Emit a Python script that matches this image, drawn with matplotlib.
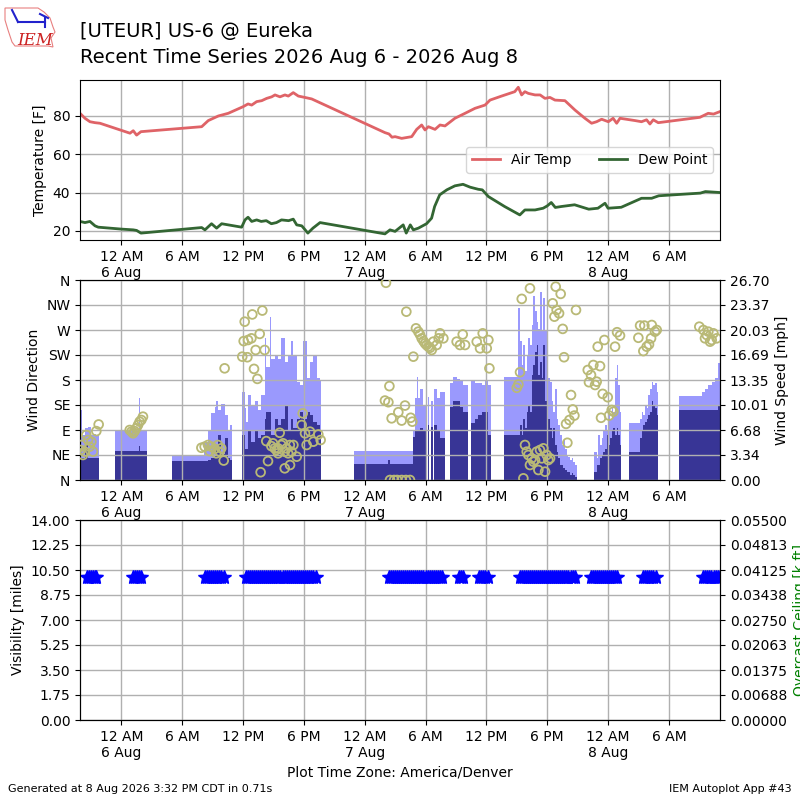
import numpy as np
import matplotlib
matplotlib.use("Agg")
import matplotlib.pyplot as plt
import matplotlib.dates as mdates
from matplotlib.ticker import FixedLocator, FuncFormatter
from matplotlib.patches import Polygon
from matplotlib.lines import Line2D
from datetime import datetime

nan = float("nan")

# ---------------- data (hours relative to 2026-08-06 00:00 America/Denver) ----------------
temp_hour = [-4.07, -3.58, -3.09, -2.59, -2.1, 0.86, 1.18, 1.51, 1.94, 7.93, 8.58, 9.57, 10.55,
             12.03, 12.5, 12.86, 13.35, 13.85, 14.34, 14.83, 15.16, 15.65, 16.14, 16.47, 16.96, 17.46,
             18.1, 18.78, 26.0, 26.4, 26.7, 27.0, 27.65, 28.64, 29.13, 29.62, 29.95, 30.28, 30.94,
             31.43, 31.92, 32.9, 33.9, 34.88, 35.87, 36.36, 37.5, 38.8, 39.15, 39.48, 39.8, 40.14,
             40.8, 41.3, 41.78, 42.27, 42.77, 43.75, 44.74, 45.72, 46.38, 46.87, 47.37, 48.03, 48.5,
             48.85, 49.18, 50.66, 51.3, 51.8, 52.13, 52.46, 52.95, 57.06, 57.88, 58.4, 59.04]
temp_f = [81.4, 78.8, 77.0, 76.5, 76.2, 71.0, 72.3, 70.0, 71.8, 74.4, 77.6, 80.0, 81.4,
          84.9, 86.3, 85.7, 87.5, 88.0, 89.2, 90.0, 91.0, 90.0, 91.0, 90.4, 92.2, 90.4,
          89.7, 88.9, 71.3, 70.6, 68.9, 69.2, 68.3, 69.2, 73.0, 75.3, 72.7, 74.4, 73.0,
          75.3, 74.8, 78.8, 81.4, 84.0, 85.7, 88.3, 90.4, 92.7, 95.0, 91.0, 92.7, 91.8,
          91.0, 91.0, 89.2, 89.7, 88.3, 88.0, 83.1, 78.8, 76.2, 77.0, 78.3, 77.0, 78.8,
          76.2, 78.8, 77.6, 77.0, 78.0, 75.8, 78.0, 76.5, 79.3, 81.4, 81.0, 82.3]

dew_hour = [-4.07, -3.58, -3.09, -2.59, -2.27, 0.0, 1.18, 1.51, 1.94, 7.93, 8.25, 8.9, 9.4, 9.9,
            10.55, 11.87, 12.2, 12.5, 12.86, 13.35, 13.8, 14.3, 14.8, 15.3, 15.8, 16.5, 16.96, 17.3,
            17.8, 18.4, 18.9, 19.6, 26.0, 26.5, 27.0, 27.8, 28.1, 28.5, 28.8, 29.3, 30.1, 30.6,
            30.9, 31.4, 32.1, 32.9, 33.7, 34.4, 35.2, 35.6, 36.2, 37.8, 39.3, 39.8, 40.8, 41.6,
            42.0, 42.4, 42.8, 43.4, 44.7, 46.1, 47.0, 47.7, 48.0, 49.3, 51.3, 52.3, 53.0, 57.1,
            57.6, 59.04]
dew_f = [24.9, 24.3, 24.9, 22.6, 21.9, 20.9, 20.5, 20.2, 18.8, 21.7, 20.5, 23.7, 21.4, 23.7,
         23.1, 21.9, 25.7, 27.1, 24.9, 25.7, 24.9, 25.3, 23.7, 24.3, 25.7, 25.3, 26.1, 23.1,
         22.6, 18.8, 21.4, 24.3, 18.4, 20.5, 19.7, 23.1, 18.8, 23.1, 20.5, 21.4, 23.7, 26.6,
         32.7, 38.8, 41.4, 43.5, 44.3, 42.8, 41.7, 41.4, 37.9, 32.7, 28.3, 30.9, 30.9, 31.8,
         33.0, 34.8, 32.2, 32.7, 33.6, 31.3, 31.8, 34.4, 31.8, 32.3, 37.0, 37.0, 38.3, 39.7,
         40.5, 40.0]

# wind observations: each bar lasts until the next time; nan = no data
wind_hour = [-4.07, -3.85, -3.6, -3.3, -3.0, -2.7, -2.45, -2.23,
             -0.65, 1.7, 1.8, 2.53,
             5.0, 8.15, 8.55, 8.88, 9.2, 9.37, 9.53, 9.86, 10.19, 10.52, 10.68, 10.9,
             11.9, 12.17, 12.33, 12.5, 12.83, 13.16, 13.48, 13.81, 14.14, 14.3, 14.63, 14.8, 15.13,
             15.46, 15.79, 16.12, 16.45, 16.78, 16.97, 17.3, 17.62, 17.95, 18.28, 18.6, 18.93,
             19.26, 19.6, 19.7,
             22.9, 26.35, 26.45,
             28.8, 28.96, 29.13, 29.29, 29.46, 29.79, 30.05, 30.2, 30.37, 30.51, 30.7, 30.8, 31.1,
             31.43, 31.96, 32.4, 32.74, 33.07, 33.4, 33.73, 34.22, 34.49, 34.88, 35.2, 35.54, 35.87,
             36.2, 36.46,
             37.7, 39.15, 39.32, 39.48, 39.65, 39.81, 39.98, 40.14, 40.31, 40.47, 40.63, 40.8, 40.96,
             41.13, 41.29, 41.46, 41.62, 41.78, 41.95, 42.11, 42.28, 42.44, 42.61, 42.77, 42.93,
             43.1, 43.26, 43.43, 43.59, 43.76, 43.92, 44.09, 44.25, 44.41, 44.58, 44.74, 44.91,
             46.65, 46.88, 47.04, 47.21, 47.37, 47.54, 47.7, 47.87, 48.03, 48.19, 48.36, 48.52,
             48.69, 48.85, 49.02, 49.18, 49.25,
             50.07, 51.15, 51.32, 51.48, 51.65, 51.81, 51.97, 52.14, 52.3, 52.47, 52.63, 52.8, 52.96,
             55.0, 57.23, 57.56, 57.89, 58.22, 58.55, 58.88, 59.04]
wind_gust = [9.4, 6.0, 6.9, 7.1, 6.0, 6.2, 6.0, nan,
             6.5, 10.9, 6.5, nan,
             3.2, 5.1, 6.7, 8.9, 9.8, 10.5, 9.3, 10.2, 8.7, 6.5, 7.3, nan,
             11.8, 9.6, 7.8, 11.3, 10.0, 10.5, 9.3, 11.3, 18.9, 15.1, 21.8, 16.2, 16.7,
             16.2, 18.9, 15.8, 16.7, 18.5, 16.7, 13.1, 12.7, 18.5, 13.6, 15.8, 16.7,
             13.6, 13.4, nan,
             3.9, 3.9, 3.9,
             6.7, 10.9, 13.8, 10.9, 12.2, 10.0, nan, 11.1, nan, 10.5, nan, 12.2, 10.9,
             11.8, nan, 13.0, 13.8, 13.5, 13.3, 12.7, nan, 13.3, 12.9, 13.0, 12.7, 13.3,
             12.7, nan,
             13.7, 22.9, 18.5, 15.4, 18.0, 14.5, 16.7, 18.9, 18.0, 20.7, 24.5, 22.5, 21.1,
             20.2, 25.1, 20.0, 24.3, 20.0, 19.4, 13.6, 13.1, 10.5, 9.1, 12.2, 8.2,
             7.3, 6.0, 4.7, 5.3, 4.2, 3.3, 3.1, 2.7, 2.9, 2.4, 2.0, nan,
             3.8, 2.9, 6.0, 4.7, 5.6, 6.5, 7.3, 6.5, 9.1, 8.2, 9.6, 9.1,
             13.6, 15.4, 12.7, 9.1, nan,
             7.6, 8.2, 9.1, 8.7, 10.0, 9.6, 11.3, 12.2, 13.1, 12.7, 12.9, 11.8, nan,
             11.2, 11.8, 12.2, 12.7, 13.1, 13.6, 15.6, nan]
wind_speed = [3.0, 3.0, 4.7, 3.0, 3.0, 3.0, 3.0, nan,
              3.9, 4.5, 3.9, nan,
              2.5, 2.5, 2.7, 3.0, 3.2, 4.0, 6.0, 3.5, 5.6, 3.0, 2.7, nan,
              6.0, 4.2, 4.2, 6.5, 5.1, 6.5, 5.6, 6.0, 8.2, 9.1, 9.1, 6.0, 8.2,
              7.3, 8.2, 10.0, 6.5, 8.2, 6.9, 8.2, 9.1, 8.2, 9.1, 8.7, 7.8,
              7.3, 6.5, nan,
              2.2, 2.7, 2.2,
              5.8, 6.5, 6.5, 6.7, 6.9, 6.7, nan, 7.3, nan, 7.1, nan, 7.3, 6.5,
              5.6, nan, 9.8, 10.5, 10.5, 9.8, 9.1, nan, 7.6, 8.2, 8.7, 9.1, 9.1,
              6.0, nan,
              6.0, 6.0, 7.3, 6.0, 8.2, 6.9, 9.1, 10.0, 9.1, 14.0, 15.4, 17.1, 18.0,
              14.0, 15.8, 13.6, 18.0, 10.5, 10.0, 8.2, 6.9, 5.6, 6.9, 4.7, 3.8,
              2.9, 2.0, 2.0, 1.6, 1.3, 1.1, 1.1, 0.7, 0.9, 0.7, 0.4, nan,
              1.1, 2.0, 2.0, 2.9, 3.3, 3.8, 4.2, 6.0, 4.7, 5.6, 6.5, 6.9,
              6.0, 6.9, 6.0, 4.7, nan,
              3.8, 5.6, 6.5, 7.3, 7.8, 8.2, 8.7, 9.1, 10.5, 10.0, 9.6, 8.7, nan,
              9.3, 9.3, 9.3, 9.3, 9.3, 9.3, 10.0, nan]

dir_hour = [-4.0, -3.94, -3.78, -3.61, -3.45, -3.28, -3.12, -2.95, -2.79, -2.46, -2.23,
            0.83, 1.0, 1.16, 1.32, 1.48, 1.65, 1.81, 1.98, 2.14,
            7.9, 8.22, 8.55, 8.71, 8.88, 9.2, 9.37, 9.53, 9.7, 9.86, 10.1, 10.19,
            11.93, 12.07, 12.17, 12.43, 12.5, 12.83, 12.92, 13.09, 13.25, 13.42, 13.65, 13.91,
            14.14, 13.74, 14.3, 14.47, 14.8, 14.96, 15.13, 15.29, 15.46, 15.46, 15.62, 15.79,
            15.95, 16.12, 16.12, 16.29, 16.45, 16.62, 16.64, 16.78, 16.97, 17.3, 17.79, 17.89,
            18.12, 18.28, 18.61, 18.94, 19.43, 19.66,
            26.0, 26.1, 26.34, 26.44, 26.5, 26.66, 26.9, 27.2, 27.32, 27.65, 27.65, 27.98, 28.07,
            28.11, 28.47, 28.54, 28.7,
            28.8, 29.06, 29.29, 29.45, 29.62, 29.8, 29.95, 30.1, 30.28, 30.45, 30.61, 30.77,
            31.1, 31.3, 31.43, 31.76, 33.07, 33.4, 33.67, 33.9, 35.05, 35.38, 35.64, 36.04,
            36.2, 36.3,
            39.0, 39.16, 39.32, 39.49, 39.65, 39.81, 39.98, 40.14, 40.3, 40.3, 40.47, 40.64,
            40.8, 40.96, 41.13, 41.29, 41.46, 41.62, 41.79, 41.95, 42.11, 42.28, 42.54, 42.71,
            42.84, 42.93, 43.17, 43.33, 43.53, 43.66, 43.86, 43.99, 44.19, 44.35, 44.52, 44.68,
            44.84,
            46.0, 46.12, 46.32, 46.55, 46.72, 46.88, 46.98, 47.21, 47.31, 47.47, 47.64, 47.97,
            48.1, 48.36, 48.53, 48.69, 48.89, 49.18,
            50.99, 51.16, 51.48, 51.58, 51.81, 52.04, 52.24, 52.31, 52.63, 52.8,
            57.0, 57.4, 57.56, 57.73, 57.89, 58.06, 58.22, 58.39, 58.71]
dir_deg = [54, 63, 45, 51, 81, 72, 60, 69, 51, 88, 100,
           90, 87, 84, 88, 93, 99, 105, 108, 114,
           58, 60, 63, 52, 60, 56, 48, 63, 51, 57, 35, 201,
           222, 250, 285, 221, 252, 255, 298, 200, 234, 182, 263, 305,
           234, 14, 70, 34, 61, 66, 57, 54, 48, 57, 85, 63,
           66, 51, 21, 57, 48, 63, 27, 51, 63, 42, 99, 120,
           84, 63, 87, 69, 82, 72,
           143, 355, 140, 169, 0, 111, 0, 0, 122, 107, 0, 134, 0,
           303, 0, 112, 105,
           222, 273, 267, 262, 255, 250, 246, 243, 240, 238, 234, 249,
           243, 255, 264, 255, 249, 243, 262, 243, 249, 237, 264, 237,
           252, 201,
           166, 172, 194, 326, 3, 63, 51, 45, 345, 27, 39, 33,
           36, 51, 18, 54, 39, 57, 15, 45, 36, 39, 318, 294,
           348, 306, 300, 335, 272, 221, 101, 67, 108, 153, 127, 116,
           306,
           198, 176, 189, 207, 171, 177, 240, 205, 112, 155, 252, 149,
           116, 126, 123, 240, 266, 260,
           256, 278, 232, 278, 240, 244, 255, 279, 267, 270,
           276, 270, 255, 261, 267, 249, 252, 264, 255]

vis_hour = [-3.4, -3.2, -3.0, -2.8, -2.6, -2.5,
            1.15, 1.35, 1.55, 1.75, 1.95,
            8.25, 8.45, 8.65, 8.85, 9.05, 9.25, 9.45, 9.65, 9.85, 10.1,
            12.3, 12.5, 12.7, 12.9, 13.1, 13.3, 13.5, 13.7, 13.9, 14.1, 14.3, 14.5, 14.7, 14.9,
            15.1, 15.3, 15.5, 15.7, 15.9, 16.1, 16.3, 16.5, 16.7, 16.9, 17.1, 17.3, 17.5, 17.7,
            17.9, 18.1, 18.3, 18.5, 18.7, 18.9, 19.2,
            26.4, 26.6, 26.8, 27.0, 27.2, 27.4, 27.6, 27.8, 28.0, 28.2, 28.4, 28.6, 28.8, 29.0,
            29.2, 29.4, 29.6, 29.8, 30.0, 30.2, 30.4, 30.6, 30.8, 31.0, 31.2, 31.4, 31.6,
            33.3, 33.5, 33.7,
            35.3, 35.5, 35.7, 35.9, 36.2,
            39.3, 39.5, 39.7, 39.9, 40.1, 40.3, 40.5, 40.7, 40.9, 41.1, 41.3, 41.5, 41.7, 41.9,
            42.1, 42.3, 42.5, 42.7, 42.9, 43.1, 43.3, 43.5, 43.7, 43.9, 44.1, 44.3, 44.5, 44.7,
            46.3, 46.5, 46.7, 46.9, 47.1, 47.3, 47.5, 47.7, 47.9, 48.1, 48.3, 48.5, 48.7, 48.9,
            51.4, 51.6, 51.8, 52.0, 52.2, 52.4, 52.7,
            57.4, 57.6, 57.8, 58.0, 58.2, 58.4, 58.6, 58.8, 59.0]
vis_miles = [10.0] * len(vis_hour)

dir_ticklabels = ["N", "NE", "E", "SE", "S", "SW", "W", "NW", "N"]
speed_ticklabels = ["0.00", "3.34", "6.68", "10.01", "13.35", "16.69", "20.03", "23.37", "26.70"]
vis_ticklabels = ["0.00", "1.75", "3.50", "5.25", "7.00", "8.75", "10.50", "12.25", "14.00"]
ceil_ticklabels = ["0.00000", "0.00688", "0.01375", "0.02063", "0.02750", "0.03438",
                   "0.04125", "0.04813", "0.05500"]

# ---------------- plotting ----------------
BASE = mdates.date2num(datetime(2026, 8, 6))


def hx(h):
    return BASE + np.asarray(h, dtype=float) / 24.0


XMIN, XMAX = hx(-4.07), hx(59.04)

fig = plt.figure(figsize=(8, 8), dpi=100)
ax1 = fig.add_axes([0.1, 0.7, 0.8, 0.2])
ax2 = fig.add_axes([0.1, 0.4, 0.8, 0.25])
ax3 = fig.add_axes([0.1, 0.1, 0.8, 0.25])


def tfmt(x, pos):
    d = mdates.num2date(x + 1e-7)
    hr = d.hour
    if hr == 0:
        return "12 AM\n%d Aug" % d.day
    if hr == 12:
        return "12 PM"
    if hr < 12:
        return "%d AM" % hr
    return "%d PM" % (hr - 12)


for ax in (ax1, ax2, ax3):
    ax.set_xlim(XMIN, XMAX)
    ax.xaxis.set_major_locator(mdates.HourLocator(byhour=[0, 6, 12, 18]))
    ax.xaxis.set_major_formatter(FuncFormatter(tfmt))
    ax.grid(True, color="#b0b0b0", linewidth=1.0)

# temperature panel
ax1.plot(hx(temp_hour), temp_f, color="#df6367", lw=2, label="Air Temp")
ax1.plot(hx(dew_hour), dew_f, color="#336633", lw=2, label="Dew Point")
ax1.set_ylim(15.2, 98.8)
ax1.set_yticks([20, 40, 60, 80])
ax1.set_ylabel("Temperature [F]")
ax1.legend(loc="center right", ncol=2, fontsize=10)

# wind panel
axs = ax2.twinx()
ax2.set_zorder(axs.get_zorder() + 1)
ax2.patch.set_visible(False)
t = np.array(wind_hour)
sp = np.array(wind_speed)
gu = np.array(wind_gust)
left = hx(t[:-1])
width = np.diff(t) / 24.0
m = ~np.isnan(sp[:-1])
axs.bar(left[m], gu[:-1][m], width=width[m], align="edge", color="#9a99fd",
        linewidth=0, antialiased=False)
axs.bar(left[m], sp[:-1][m], width=width[m], align="edge", color="#383596",
        linewidth=0, antialiased=False)
axs.set_ylim(0, 26.70)
axs.yaxis.set_major_locator(FixedLocator(np.linspace(0, 26.70, 9)))
axs.set_yticklabels(speed_ticklabels)
axs.set_ylabel("Wind Speed [mph]")
axs.set_xlim(XMIN, XMAX)

ax2.scatter(hx(dir_hour), dir_deg, s=40, facecolors="none", edgecolors="#b9b976",
            linewidths=1.3, zorder=3)
ax2.set_ylim(0, 360)
ax2.yaxis.set_major_locator(FixedLocator(np.arange(0, 361, 45)))
ax2.set_yticklabels(dir_ticklabels)
ax2.set_ylabel("Wind Direction")

# visibility panel
ax3.plot(hx(vis_hour), vis_miles, linestyle="none", marker="*", color="b", ms=10)
ax3.set_ylim(0, 14)
ax3.yaxis.set_major_locator(FixedLocator(np.linspace(0, 14, 9)))
ax3.set_yticklabels(vis_ticklabels)
ax3.set_ylabel("Visibility [miles]")
ax3.set_xlabel("Plot Time Zone: America/Denver")
axc = ax3.twinx()
axc.set_ylim(0, 0.055)
axc.yaxis.set_major_locator(FixedLocator(np.linspace(0, 0.055, 9)))
axc.set_yticklabels(ceil_ticklabels)
axc.set_ylabel("Overcast Ceiling [k ft]", color="g")
axc.set_xlim(XMIN, XMAX)

# titles
fig.text(0.1, 1 - 37 / 800, "[UTEUR] US-6 @ Eureka", fontsize=14, va="baseline")
fig.text(0.1, 1 - 63 / 800, "Recent Time Series 2026 Aug 6 - 2026 Aug 8", fontsize=14,
         va="baseline")

# footer
fig.text(0.01, 0.008, "Generated at 8 Aug 2026 3:32 PM CDT in 0.71s", fontsize=8, va="bottom")
fig.text(0.99, 0.008, "IEM Autoplot App #43", fontsize=8, va="bottom", ha="right")

# logo (decoration)
outline = [(5, 8), (38, 8), (44, 12), (50, 18), (53, 27), (55, 32), (51, 38), (53, 47),
           (48, 46), (15, 46), (12, 42), (8, 30), (5, 20)]
fig.patches.append(Polygon([(x / 800, 1 - y / 800) for x, y in outline], closed=True,
                           fill=False, edgecolor="#e88080", lw=0.8, transform=fig.transFigure))
for (x0, y0, x1, y1) in [(18, 22, 45, 22), (45, 18, 45, 27), (12, 10, 18, 22), (40, 14, 48, 18)]:
    fig.lines.append(Line2D([x0 / 800, x1 / 800], [1 - y0 / 800, 1 - y1 / 800],
                            transform=fig.transFigure, color="#2222cc", lw=1.5))
fig.text(17 / 800, 1 - 45 / 800, "IEM", fontsize=12, color="#cc2222", family="DejaVu Serif",
         style="italic", va="baseline")

fig.savefig("out.png", dpi=100)
